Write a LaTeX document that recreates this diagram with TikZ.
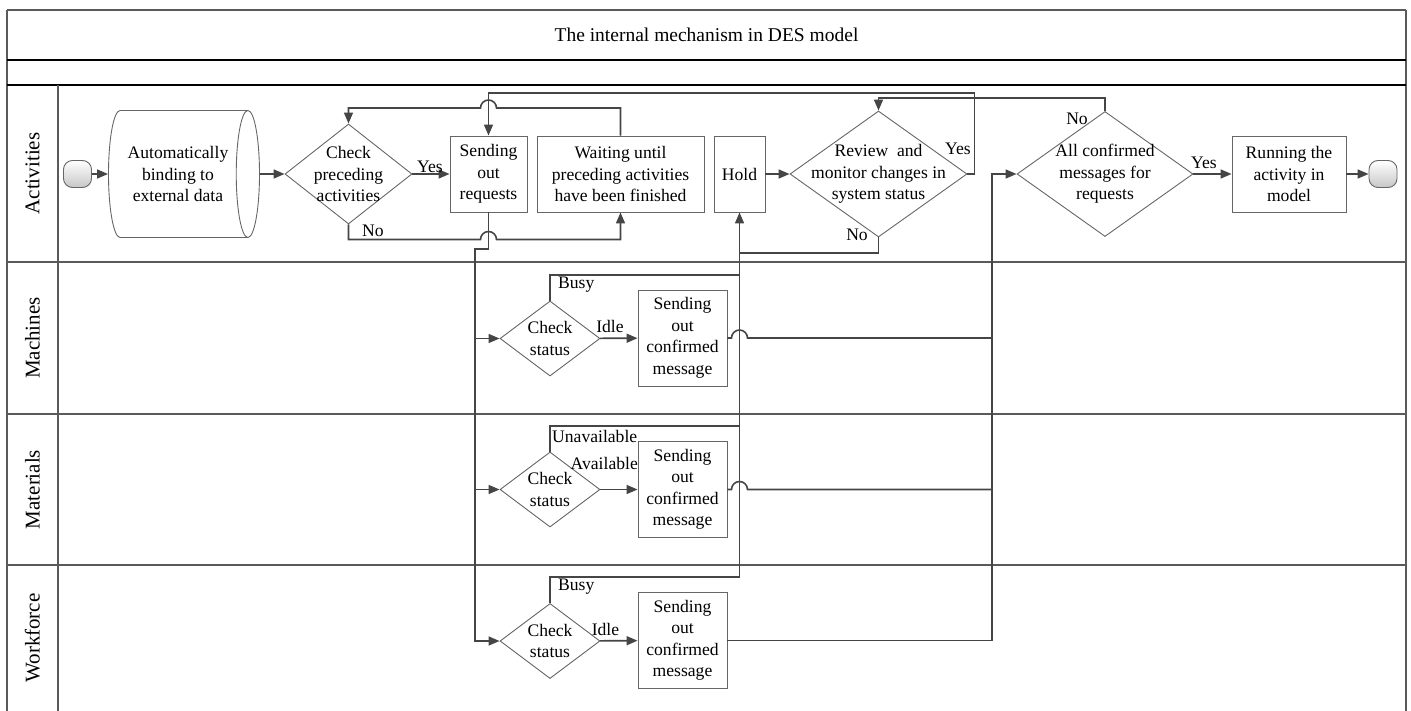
\documentclass[tikz,border=0pt]{standalone}
\usepackage{fontspec}
\setmainfont{Liberation Serif}
\usetikzlibrary{shapes.geometric, arrows.meta, positioning}
\definecolor{wiregray}{HTML}{454545}
\definecolor{edgegray}{HTML}{666666}
\definecolor{lanegray}{HTML}{5A5A5A}

\begin{document}
\begin{tikzpicture}[x=1pt, y=-1pt,
  font=\fontsize{17.6}{21.5}\selectfont,
  proc/.style={rectangle, draw=edgegray, line width=0.9pt, align=center, inner sep=0pt},
  dec/.style={diamond, draw=edgegray, line width=0.9pt, inner sep=0pt},
  declbl/.style={align=center, inner sep=0pt},
  term/.style={rectangle, rounded corners=9pt, draw=edgegray, line width=0.9pt, top color=white, bottom color=black!22, minimum width=28pt, minimum height=27pt},
  store/.style={cylinder, draw=edgegray, line width=0.9pt, align=center, shape aspect=0.42, minimum width=127pt, minimum height=151pt, inner sep=0pt},
  wire/.style={draw=wiregray, line width=1.6pt},
  arr/.style={wire, -{Triangle[length=11pt, width=9pt]}},
  lbl/.style={inner sep=0pt},
  lanelbl/.style={rotate=90, font=\fontsize{21}{25}\selectfont},
  lane/.style={draw=lanegray, line width=1.6pt},
]
\useasboundingbox (0,0) rectangle (1411,711);

% pool and lanes
\draw[lane] (7,10) -- (1406,10);
\draw[lane] (7,10) -- (7,711);
\draw[lane] (1406,10) -- (1406,711);
\draw[black, line width=1.6pt] (7,60) -- (1406,60);
\draw[black, line width=1.6pt] (7,85) -- (1406,85);
\draw[lane] (58,85) -- (58,711);
\draw[lane] (7,262) -- (1406,262);
\draw[lane] (7,414) -- (1406,414);
\draw[lane] (7,565) -- (1406,565);

\node[font=\fontsize{19.5}{23}\selectfont] (title) at (706.5,35) {The internal mechanism in DES model};

\node[lanelbl] (lact) at (32.5,173.5) {Activities};
\node[lanelbl] (lmac) at (32.5,338) {Machines};
\node[lanelbl] (lmat) at (32.5,489.5) {Materials};
\node[lanelbl] (lwrk) at (32.5,638) {Workforce};

% activities lane
\node[term] (start) at (77.5,174) {};
\node[store, anchor=shape center] (bind) at (184,174) {Automatically\\binding to\\external data};
\node[dec, minimum width=127pt, minimum height=100pt, label={[declbl]center:Check\\preceding\\activities}] (chk) at (348.5,174) {};
\node[proc, minimum width=77pt, minimum height=76pt] (sreq) at (488.5,174) {Sending\\out\\requests};
\node[proc, minimum width=167pt, minimum height=76pt] (wait) at (620.5,174) {Waiting until\\preceding activities\\have been finished};
\node[proc, minimum width=51pt, minimum height=76pt] (hold) at (739.5,174) {Hold};
\node[dec, minimum width=177pt, minimum height=126pt, label={[declbl]center:Review~~and\\monitor changes in\\system status}] (rev) at (878.5,174) {};
\node[dec, minimum width=176pt, minimum height=125pt, label={[declbl]center:All confirmed\\messages for\\requests}] (allc) at (1105,174) {};
\node[proc, minimum width=114pt, minimum height=76pt] (run) at (1289,174) {Running the\\activity in\\model};
\node[term] (finish) at (1383,174) {};

% resource lanes
\node[dec, minimum width=100pt, minimum height=75pt, label={[declbl]center:Check\\status}] (mchk) at (550,338.5) {};
\node[proc, minimum width=89pt, minimum height=96pt] (mmsg) at (682.5,338) {Sending\\out\\confirmed\\message};
\node[dec, minimum width=100pt, minimum height=75pt, label={[declbl]center:Check\\status}] (tchk) at (550,489.5) {};
\node[proc, minimum width=89pt, minimum height=96pt] (tmsg) at (682.5,489.5) {Sending\\out\\confirmed\\message};
\node[dec, minimum width=100pt, minimum height=75pt, label={[declbl]center:Check\\status}] (wchk) at (550,641) {};
\node[proc, minimum width=89pt, minimum height=96pt] (wmsg) at (682.5,640.5) {Sending\\out\\confirmed\\message};

\coordinate (split) at (474.7,249);
\coordinate (merge) at (992,174);

% flow
\draw[arr] (start) -- (bind);
\draw[arr] (bind) -- (chk);
\draw[arr] (chk) -- (sreq);
\draw[arr] (chk.south) |- (480.5,239.5) arc[start angle=180, end angle=360, radius=8] -| (wait.south);
\draw[arr] (wait.north) |- (496.5,108) arc[start angle=0, end angle=-180, radius=8] -| (chk.north);
\draw[arr] (hold) -- (rev);
\draw[arr] (rev.east) -- ++(7,0) |- (sreq.north |- 0,93) -- (sreq.north);
\draw[arr] (allc.north) |- (rev.north |- 0,98) -- (rev.north);
\draw[arr] (allc) -- (run);
\draw[arr] (run) -- (finish);

% requests to resources
\draw[arr] (sreq.south) |- (split) |- (wchk.west);
\draw[arr] (split |- mchk.west) -- (mchk.west);
\draw[arr] (split |- tchk.west) -- (tchk.west);
\draw[arr] (mchk) -- (mmsg);
\draw[arr] (tchk) -- (tmsg);
\draw[arr] (wchk) -- (wmsg);

% back to hold
\draw[arr] (wchk.north) |- (hold.south |- 0,577) -- (hold.south);
\draw[wire] (mchk.north) |- (hold.south |- 0,275);
\draw[wire] (tchk.north) |- (hold.south |- 0,426);
\draw[wire] (rev.south) |- (hold.south |- 0,253);

% confirmations
\draw[wire] (mmsg.east) -- (731.5,338) arc[start angle=180, end angle=360, radius=8] -- (merge |- mmsg.east);
\draw[wire] (tmsg.east) -- (731.5,489.5) arc[start angle=180, end angle=360, radius=8] -- (merge |- tmsg.east);
\draw[arr] (wmsg.east) -| (merge) -- (allc.west);

% branch labels
\node[lbl] (yes1) at (430,167) {Yes};
\node[lbl] (no1) at (373,231) {No};
\node[lbl] (yes2) at (958,149) {Yes};
\node[lbl] (no2) at (857,235) {No};
\node[lbl] (no3) at (1077,119) {No};
\node[lbl] (yes3) at (1204,163) {Yes};
\node[lbl, anchor=west] (busy1) at (558,285) {Busy};
\node[lbl] (idle1) at (610,326) {Idle};
\node[lbl, anchor=west] (unav) at (552,436) {Unavailable};
\node[lbl, anchor=east] (avail) at (638,463) {Available};
\node[lbl, anchor=west] (busy2) at (558,587) {Busy};
\node[lbl] (idle2) at (605.5,629) {Idle};
\end{tikzpicture}
\end{document}
